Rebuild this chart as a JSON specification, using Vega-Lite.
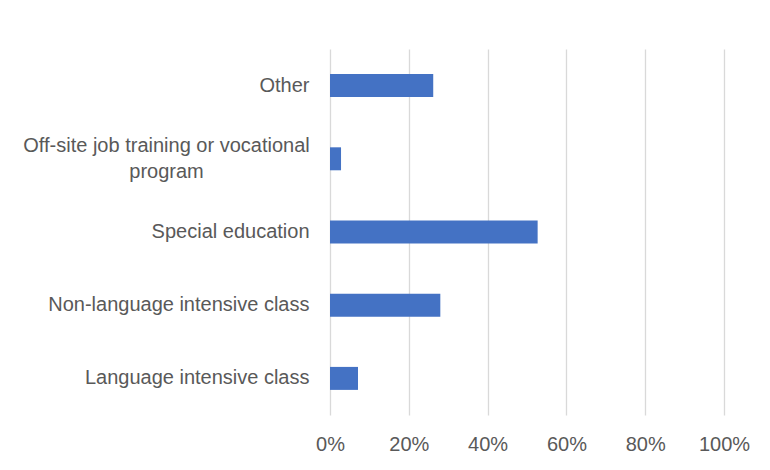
{
  "$schema": "https://vega.github.io/schema/vega-lite/v6.json",
  "width": 394,
  "height": 366,
  "autosize": {"type": "none"},
  "padding": {"left": 330, "top": 49, "right": 46, "bottom": 55},
  "background": "white",
  "config": {
    "view": {"stroke": null},
    "font": "Liberation Sans"
  },
  "data": {
    "values": [
      {"category": "Other", "share": 0.262},
      {"category": "Off-site job training or vocational program", "share": 0.028},
      {"category": "Special education", "share": 0.527},
      {"category": "Non-language intensive class", "share": 0.28},
      {"category": "Language intensive class", "share": 0.071}
    ]
  },
  "mark": {"type": "bar", "color": "#4472C4"},
  "encoding": {
    "y": {
      "field": "category",
      "type": "nominal",
      "sort": null,
      "title": null,
      "scale": {"paddingInner": 0.686, "paddingOuter": 0.343},
      "axis": {
        "domain": false,
        "ticks": false,
        "grid": false,
        "labelFont": "Liberation Sans",
        "labelFontSize": 20,
        "labelColor": "#595959",
        "labelLimit": 400,
        "labelLineHeight": 26,
        "labelBaseline": "middle",
        "labelExpr": "datum.value == 'Off-site job training or vocational program' ? ['Off-site job training or vocational', 'program'] : datum.label",
        "labelAlign": {"condition": {"test": "datum.value == 'Off-site job training or vocational program'", "value": "center"}, "value": "right"},
        "labelPadding": {"condition": {"test": "datum.value == 'Off-site job training or vocational program'", "value": 164}, "value": 21},
        "labelOffset": {"condition": {"test": "datum.value == 'Off-site job training or vocational program'", "value": -13}, "value": 0}
      }
    },
    "x": {
      "field": "share",
      "type": "quantitative",
      "title": null,
      "scale": {"domain": [0, 1], "nice": false},
      "axis": {
        "format": ".0%",
        "values": [0, 0.2, 0.4, 0.6, 0.8, 1],
        "domain": false,
        "ticks": false,
        "grid": true,
        "gridColor": "#D9D9D9",
        "gridWidth": 1.3,
        "labelFont": "Liberation Sans",
        "labelFontSize": 20,
        "labelColor": "#595959",
        "labelPadding": 19,
        "labelFlush": false
      }
    }
  }
}
